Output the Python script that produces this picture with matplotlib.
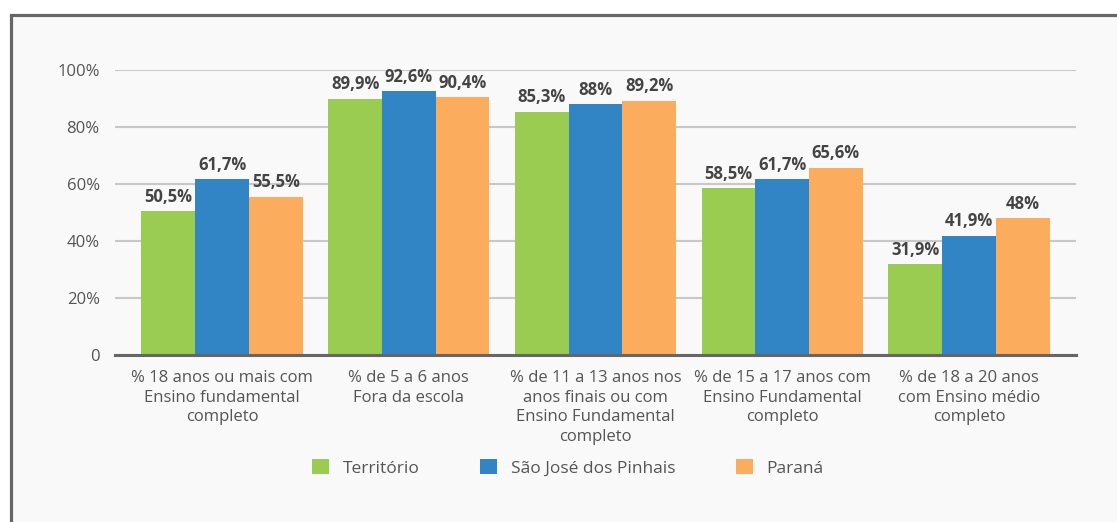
import matplotlib
matplotlib.use("Agg")
import matplotlib.pyplot as plt
from matplotlib.patches import Rectangle, Patch
import numpy as np

categories = [
    "% 18 anos ou mais com\nEnsino fundamental\ncompleto",
    "% de 5 a 6 anos\nFora da escola",
    "% de 11 a 13 anos nos\nanos finais ou com\nEnsino Fundamental\ncompleto",
    "% de 15 a 17 anos com\nEnsino Fundamental\ncompleto",
    "% de 18 a 20 anos\ncom Ensino médio\ncompleto",
]
series_names = ["Território", "São José dos Pinhais", "Paraná"]
territorio = [50.5, 89.9, 85.3, 58.5, 31.9]
sao_jose = [61.7, 92.6, 88.0, 61.7, 41.9]
parana = [55.5, 90.4, 89.2, 65.6, 48.0]
yticks = [0, 20, 40, 60, 80, 100]
ytick_labels = ["0", "20%", "40%", "60%", "80%", "100%"]

colors = ["#99CC50", "#3185C5", "#FBAD5D"]

plt.rcParams['font.family'] = ['Open Sans', 'DejaVu Sans']

W, H = 1117, 522
fig = plt.figure(figsize=(W / 100, H / 100), dpi=100)
fig.patch.set_facecolor("white")

# frame
frame = Rectangle((10.5 / W, -0.1), 1.2, (1 - 14.5 / H) + 0.1,
                  transform=fig.transFigure, facecolor="#F9F9F9",
                  edgecolor="#666666", linewidth=2.3, zorder=-10)
fig.add_artist(frame)

ax = fig.add_axes([115 / W, 1 - 355 / H, (1076 - 115) / W, (355 - 70) / H])
ax.set_facecolor("none")
ax.set_zorder(2)

x = np.arange(len(categories))
bw = 0.2875
data = [territorio, sao_jose, parana]
for i, (vals, c) in enumerate(zip(data, colors)):
    xs = x + (i - 1) * bw
    ax.bar(xs, vals, width=bw, color=c, zorder=3, linewidth=0)
    for xi, v in zip(xs, vals):
        lbl = (f"{v:.1f}".replace(".", ",") if v != int(v) else f"{int(v)}") + "%"
        ax.annotate(lbl, (xi, v), xytext=(0, 4), textcoords="offset points",
                    ha="center", va="bottom", fontsize=12, fontweight="bold",
                    color="#444444", annotation_clip=False, zorder=4)

ax.set_ylim(0, 100)
ax.set_xlim(-0.573, len(categories) - 1 + 0.573)
ax.set_yticks(yticks)
ax.set_yticklabels(ytick_labels, fontsize=12, color="#555555")
ax.set_xticks(x)
ax.set_xticklabels(categories, fontsize=12, color="#555555", linespacing=1.3)
ax.tick_params(axis="x", length=0, pad=11)
ax.tick_params(axis="y", length=0, pad=11)
ax.yaxis.grid(True, color="#C8C8C8", linewidth=1.5, zorder=0)
ax.set_axisbelow(True)
for s in ["top", "right", "left"]:
    ax.spines[s].set_visible(False)
ax.spines["bottom"].set_color("#666666")
ax.spines["bottom"].set_linewidth(2.2)
ax.spines["bottom"].set_zorder(5)

handles = [Patch(facecolor=c, edgecolor="none") for c in colors]
leg = fig.legend(handles, series_names, loc="center", bbox_to_anchor=(568 / W, 1 - 468 / H),
                 ncol=3, frameon=False, fontsize=12.5, handlelength=0.95, handleheight=0.95,
                 handletextpad=0.8, columnspacing=3.5, labelcolor="#555555")
leg.set_zorder(3)

fig.savefig("out.png", dpi=100, facecolor=fig.get_facecolor())
